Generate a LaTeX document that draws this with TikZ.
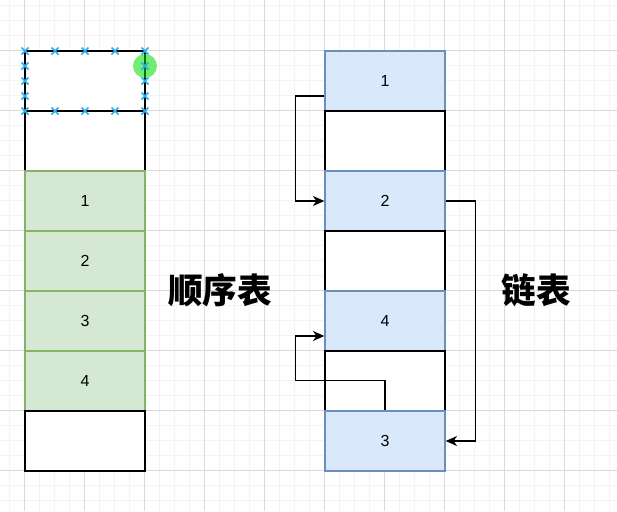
\documentclass[tikz,border=0pt]{standalone}
\usepackage{fontspec}
\setmainfont{Liberation Sans}
\newfontfamily\cjk{Noto Sans CJK SC}
\usetikzlibrary{arrows.meta}
\definecolor{seqfill}{HTML}{D5E8D4}
\definecolor{seqline}{HTML}{82B366}
\definecolor{lnkfill}{HTML}{DAE8FC}
\definecolor{lnkline}{HTML}{6C8EBF}
\definecolor{gridminor}{HTML}{F3F3F3}
\definecolor{gridmajor}{HTML}{D9D9D9}
\definecolor{handleblue}{HTML}{29AEEF}
\definecolor{handlegreen}{HTML}{00DD00}
\begin{document}
\begin{tikzpicture}[x=0.75pt,y=-0.75pt,
  cell/.style={draw,minimum width=90pt,minimum height=45pt,inner sep=0pt,line width=1pt,font=\fontsize{12}{12}\selectfont},
  blank/.style={cell,fill=white,draw=black},
  seq/.style={cell,fill=seqfill,draw=seqline},
  lnk/.style={cell,fill=lnkfill,draw=lnkline},
  link/.style={draw,line width=1pt,-{Stealth[length=8.5pt,width=7.5pt,inset=2.5pt]}},
  handle/.style={draw=handleblue,line width=1.2pt},
  title/.style={font=\cjk\bfseries\fontsize{26}{26}\selectfont}]
\useasboundingbox[fill=white] (0,0) rectangle (617,511);
% grid
\foreach \x in {9.5,24.5,...,610} \draw[gridminor,line width=0.75pt] (\x,0) -- (\x,511);
\foreach \y in {5.7,20.7,...,510} \draw[gridminor,line width=0.75pt] (0,\y) -- (617,\y);
\foreach \x in {24.5,84.5,...,610} \draw[gridmajor,line width=0.75pt] (\x,0) -- (\x,511);
\foreach \y in {50.7,110.7,...,510} \draw[gridmajor,line width=0.75pt] (0,\y) -- (617,\y);
% sequential list
\node[blank] (s0) at (85,81) {};
\node[blank] (s1) at (85,141) {};
\node[seq] (s2) at (85,201) {1};
\node[seq] (s3) at (85,261) {2};
\node[seq] (s4) at (85,321) {3};
\node[seq] (s5) at (85,381) {4};
\node[blank] (s6) at (85,441) {};
\node[title] (seqtitle) at (220,290) {顺序表};
% selection handles
\fill[handlegreen,opacity=0.55] (145,66) circle (12);
\foreach \x in {25,55,85,115,145} \foreach \y in {51,111}
  \draw[handle] (\x-3.5,\y-3.5) -- (\x+3.5,\y+3.5) (\x-3.5,\y+3.5) -- (\x+3.5,\y-3.5);
\foreach \x in {25,145} \foreach \y in {66,81,96}
  \draw[handle] (\x-3.5,\y-3.5) -- (\x+3.5,\y+3.5) (\x-3.5,\y+3.5) -- (\x+3.5,\y-3.5);
% linked list
\node[lnk] (l1) at (385,81) {1};
\node[blank] (e1) at (385,141) {};
\node[lnk] (l2) at (385,201) {2};
\node[blank] (e2) at (385,261) {};
\node[lnk] (l4) at (385,321) {4};
\node[blank] (e3) at (385,381) {};
\node[lnk] (l3) at (385,441) {3};
\node[title] (lnktitle) at (536,290) {链表};
\draw[link] ([yshift=-11.25pt]l1.west) -- ++(-29,0) |- (l2.west);
\draw[link] (l2.east) -- ++(30,0) |- (l3.east);
\draw[link] (l3.north) -- ++(0,-30) -- ++(-89.5,0) |- ([yshift=-11.25pt]l4.west);
\end{tikzpicture}
\end{document}
